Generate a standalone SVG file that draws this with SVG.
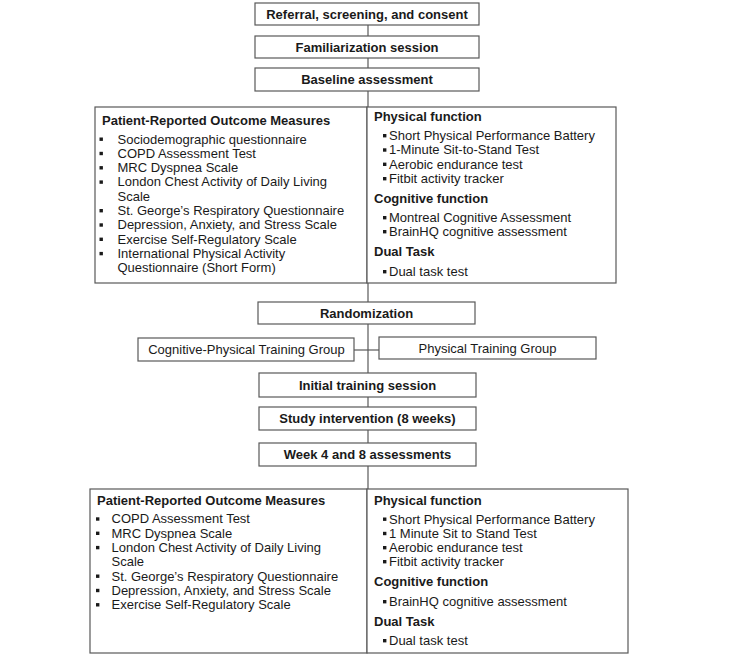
<svg xmlns="http://www.w3.org/2000/svg" width="733" height="655" viewBox="0 0 733 655">
<style>
.box{fill:#fff;stroke:#595959;stroke-width:1.2}
.ln{stroke:#595959;stroke-width:1.2;fill:none}
.t{font-family:"Liberation Sans",Arial,sans-serif;font-size:13px;fill:#1a1a1a}
.b{font-weight:bold}
.c{text-anchor:middle}
.bul{fill:#1a1a1a}
</style>
<defs>
<rect id="sq" width="3.4" height="3.4" class="bul"/>
</defs>
<rect width="733" height="655" fill="#fff"/>
<g id="connectors">
<line class="ln" x1="368" y1="25" x2="368" y2="302"/>
<line class="ln" x1="368" y1="324" x2="368" y2="373"/>
<line class="ln" x1="354" y1="350" x2="379" y2="350"/>
<line class="ln" x1="368" y1="397" x2="368" y2="443"/>
<line class="ln" x1="368" y1="466" x2="368" y2="489"/>
</g>
<g id="referral"><rect class="box" x="255" y="3" width="224" height="22"/><text class="t b c" x="367" y="18.5">Referral, screening, and consent</text></g>
<g id="familiarization"><rect class="box" x="255" y="36" width="224" height="22"/><text class="t b c" x="367" y="51.5">Familiarization session</text></g>
<g id="baseline"><rect class="box" x="255" y="68" width="224" height="23"/><text class="t b c" x="367" y="84">Baseline assessment</text></g>
<g id="baseline-pro">
<rect class="box" x="95" y="107" width="272" height="176"/>
<text class="t b" x="102" y="125">Patient-Reported Outcome Measures</text>
<use href="#sq" x="99.5" y="137.5"/><text class="t" x="117.5" y="143.5">Sociodemographic questionnaire</text>
<use href="#sq" x="99.5" y="151.8"/><text class="t" x="117.5" y="157.8">COPD Assessment Test</text>
<use href="#sq" x="99.5" y="166.1"/><text class="t" x="117.5" y="172.1">MRC Dyspnea Scale</text>
<use href="#sq" x="99.5" y="180.4"/><text class="t" x="117.5" y="186.4">London Chest Activity of Daily Living</text>
<text class="t" x="117.5" y="200.7">Scale</text>
<use href="#sq" x="99.5" y="209"/><text class="t" x="117.5" y="215">St. George’s Respiratory Questionnaire</text>
<use href="#sq" x="99.5" y="223.3"/><text class="t" x="117.5" y="229.3">Depression, Anxiety, and Stress Scale</text>
<use href="#sq" x="99.5" y="237.6"/><text class="t" x="117.5" y="243.6">Exercise Self-Regulatory Scale</text>
<use href="#sq" x="99.5" y="251.9"/><text class="t" x="117.5" y="257.9">International Physical Activity</text>
<text class="t" x="117.5" y="272.2">Questionnaire (Short Form)</text>
</g>
<g id="baseline-function">
<rect class="box" x="367" y="107" width="249" height="176"/>
<text class="t b" x="374" y="121">Physical function</text>
<use href="#sq" x="383" y="134"/><text class="t" x="389" y="140">Short Physical Performance Battery</text>
<use href="#sq" x="383" y="148.3"/><text class="t" x="389" y="154.3">1-Minute Sit-to-Stand Test</text>
<use href="#sq" x="383" y="162.6"/><text class="t" x="389" y="168.6">Aerobic endurance test</text>
<use href="#sq" x="383" y="177"/><text class="t" x="389" y="183">Fitbit activity tracker</text>
<text class="t b" x="374" y="202.5">Cognitive function</text>
<use href="#sq" x="383" y="216"/><text class="t" x="389" y="222">Montreal Cognitive Assessment</text>
<use href="#sq" x="383" y="230"/><text class="t" x="389" y="236">BrainHQ cognitive assessment</text>
<text class="t b" x="374" y="256">Dual Task</text>
<use href="#sq" x="383" y="270"/><text class="t" x="389" y="276">Dual task test</text>
</g>
<g id="randomization"><rect class="box" x="258" y="302" width="217" height="22"/><text class="t b c" x="366.5" y="317.5">Randomization</text></g>
<g id="cog-phys-group"><rect class="box" x="138" y="338" width="216" height="23"/><text class="t c" x="246.5" y="354">Cognitive-Physical Training Group</text></g>
<g id="phys-group"><rect class="box" x="379" y="337" width="217" height="22"/><text class="t c" x="487.5" y="352.5">Physical Training Group</text></g>
<g id="initial-training"><rect class="box" x="259" y="373" width="217" height="24"/><text class="t b c" x="367.5" y="389.5">Initial training session</text></g>
<g id="study-intervention"><rect class="box" x="259" y="407" width="217" height="23"/><text class="t b c" x="367.5" y="423">Study intervention (8 weeks)</text></g>
<g id="week-assessments"><rect class="box" x="259" y="443" width="217" height="23"/><text class="t b c" x="367.5" y="459">Week 4 and 8 assessments</text></g>
<g id="followup-pro">
<rect class="box" x="90" y="489" width="277" height="164"/>
<text class="t b" x="97" y="505">Patient-Reported Outcome Measures</text>
<use href="#sq" x="96" y="517.3"/><text class="t" x="111.5" y="523.3">COPD Assessment Test</text>
<use href="#sq" x="96" y="531.6"/><text class="t" x="111.5" y="537.6">MRC Dyspnea Scale</text>
<use href="#sq" x="96" y="545.9"/><text class="t" x="111.5" y="551.9">London Chest Activity of Daily Living</text>
<text class="t" x="111.5" y="566.2">Scale</text>
<use href="#sq" x="96" y="574.5"/><text class="t" x="111.5" y="580.5">St. George’s Respiratory Questionnaire</text>
<use href="#sq" x="96" y="588.8"/><text class="t" x="111.5" y="594.8">Depression, Anxiety, and Stress Scale</text>
<use href="#sq" x="96" y="603.1"/><text class="t" x="111.5" y="609.1">Exercise Self-Regulatory Scale</text>
</g>
<g id="followup-function">
<rect class="box" x="367" y="489" width="261" height="164"/>
<text class="t b" x="374" y="505">Physical function</text>
<use href="#sq" x="383" y="517.5"/><text class="t" x="389" y="523.5">Short Physical Performance Battery</text>
<use href="#sq" x="383" y="531.8"/><text class="t" x="389" y="537.8">1 Minute Sit to Stand Test</text>
<use href="#sq" x="383" y="546"/><text class="t" x="389" y="552">Aerobic endurance test</text>
<use href="#sq" x="383" y="560"/><text class="t" x="389" y="566">Fitbit activity tracker</text>
<text class="t b" x="374" y="586">Cognitive function</text>
<use href="#sq" x="383" y="600"/><text class="t" x="389" y="606">BrainHQ cognitive assessment</text>
<text class="t b" x="374" y="625.5">Dual Task</text>
<use href="#sq" x="383" y="639"/><text class="t" x="389" y="645">Dual task test</text>
</g>
</svg>
